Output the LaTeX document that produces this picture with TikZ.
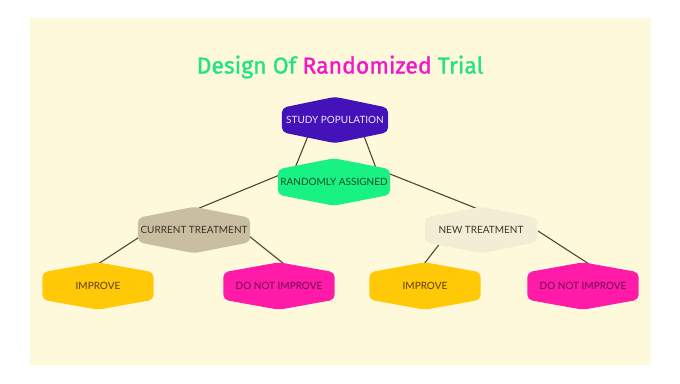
\documentclass[tikz,border=0pt]{standalone}
\usepackage{fontspec}
\usetikzlibrary{calc}
\newfontfamily\labelfont{Lato}
\newfontfamily\titlefont[FakeBold=1.2]{Fira Sans}
\definecolor{bgcream}{HTML}{FFF9DB}
\definecolor{titleg}{HTML}{22E384}
\definecolor{titlep}{HTML}{F516C8}
\definecolor{spc}{HTML}{4312B8}
\definecolor{sptext}{HTML}{F0E8FF}
\definecolor{rac}{HTML}{17F283}
\definecolor{ratext}{HTML}{104A28}
\definecolor{ctc}{HTML}{C9BFA0}
\definecolor{cttext}{HTML}{3B352B}
\definecolor{ntc}{HTML}{F2EDD5}
\definecolor{nttext}{HTML}{3B352B}
\definecolor{imc}{HTML}{FFC907}
\definecolor{imtext}{HTML}{5B3A05}
\definecolor{dnc}{HTML}{FF1AA8}
\definecolor{dntext}{HTML}{6B0E55}
\definecolor{linec}{HTML}{4F4636}
\pgfdeclarelayer{bgl}
\pgfdeclarelayer{lines}
\pgfdeclarelayer{fills}
\pgfsetlayers{bgl,lines,fills,main}
\newcommand\hexfill[3]{%
  \fill[#2, rounded corners=5pt] (#1.north) -- ($(#1.north east)+(0,#3)$) -- ($(#1.south east)+(0,-#3)$) -- (#1.south) -- ($(#1.south west)+(0,-#3)$) -- ($(#1.north west)+(0,#3)$) -- cycle;}
\begin{document}
\begin{tikzpicture}[x=1pt,y=-1pt,
  hex/.style={inner sep=0pt, minimum height=47pt, font={\labelfont\fontsize{10}{12}\selectfont}},
  conn/.style={draw=linec, line width=1.1pt}]
\useasboundingbox (0,0) rectangle (680,383);
\begin{pgfonlayer}{bgl}
\fill[white] (0,0) rectangle (680,383);
\fill[bgcream] (30,18) rectangle (651,365);
\end{pgfonlayer}
\node[font={\titlefont\fontsize{23}{26}\selectfont}] (title) at (340,67)
  {\textcolor{titleg}{Design Of}\ \textcolor{titlep}{Randomized}\ \textcolor{titleg}{Trial}};
\node[hex, minimum width=106pt, minimum height=46pt, text=sptext] (sp) at (335,120) {STUDY POPULATION};
\node[hex, minimum width=112pt, text=ratext] (ra) at (334,182) {RANDOMLY ASSIGNED};
\node[hex, minimum width=112pt, minimum height=46pt, text=cttext] (ct) at (194,230) {CURRENT TREATMENT};
\node[hex, minimum width=112pt, minimum height=46pt, text=nttext] (nt) at (481,230) {NEW TREATMENT};
\node[hex, minimum width=111pt, text=imtext] (i1) at (98,286) {IMPROVE};
\node[hex, minimum width=111pt, text=dntext] (d1) at (279,286) {DO NOT IMPROVE};
\node[hex, minimum width=111pt, text=imtext] (i2) at (425,286) {IMPROVE};
\node[hex, minimum width=111pt, text=dntext] (d2) at (583,286) {DO NOT IMPROVE};
\begin{pgfonlayer}{fills}
\hexfill{sp}{spc}{11}
\hexfill{ra}{rac}{11}
\hexfill{ct}{ctc}{11}
\hexfill{nt}{ntc}{11}
\hexfill{i1}{imc}{10}
\hexfill{d1}{dnc}{10}
\hexfill{i2}{imc}{10}
\hexfill{d2}{dnc}{10}
\end{pgfonlayer}
\begin{pgfonlayer}{lines}
\draw[conn] ($(sp)+(-27,16)$) -- ($(ra)+(-39,-14)$);
\draw[conn] ($(sp)+(29,16)$) -- ($(ra)+(42,-14)$);
\draw[conn] ($(ra)+(-52,-8)$) -- ($(ct)+(3,-21)$);
\draw[conn] ($(ra)+(56,-8)$) -- ($(nt)+(-3,-21)$);
\draw[conn] ($(ct)+(-53,6)$) -- ($(i1)+(0,-22)$);
\draw[conn] ($(ct)+(55,6)$) -- ($(d1)+(5,-22)$);
\draw[conn] ($(nt)+(-40,12)$) -- ($(i2)+(-1,-22)$);
\draw[conn] ($(nt)+(57,1)$) -- ($(d2)+(6,-22)$);
\end{pgfonlayer}
\end{tikzpicture}
\end{document}
